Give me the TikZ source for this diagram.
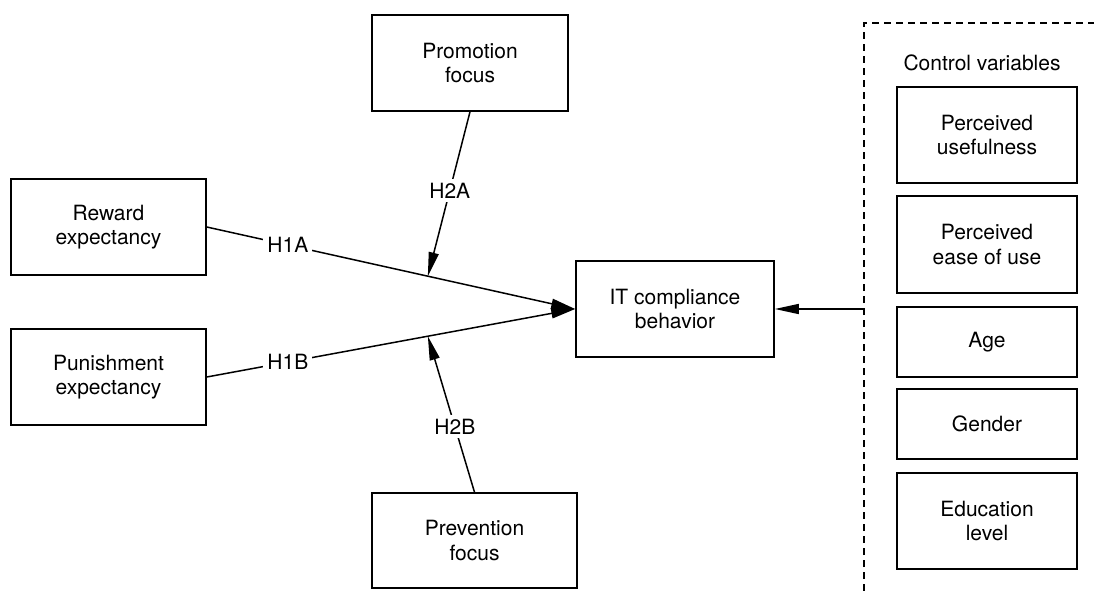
\documentclass[tikz,border=0pt]{standalone}
\usepackage{fontspec}
\setmainfont{TeX Gyre Heros}
\usetikzlibrary{arrows.meta,calc}
\begin{document}
\begin{tikzpicture}[x=1pt,y=-1pt,
  box/.style={draw,line width=1.6pt,inner sep=0pt,align=center,font=\fontsize{21}{24.5}\selectfont},
  lbl/.style={fill=white,inner sep=4pt,font=\fontsize{21}{24.5}\selectfont},
  conn/.style={line width=1.5pt},
  arr/.style={conn,-{Triangle[length=24pt,width=10pt]}},
  dashedline/.style={line width=1.4pt,dash pattern=on 7pt off 5pt}]
\useasboundingbox (0,0) rectangle (1094,591);
% main nodes
\node[box,minimum width=196pt,minimum height=96pt] (promo) at (470,63) {Promotion\\focus};
\node[box,minimum width=205pt,minimum height=95pt] (prev) at (474.5,540.5) {Prevention\\focus};
\node[box,minimum width=195pt,minimum height=96pt] (rew) at (108.5,227) {Reward\\expectancy};
\node[box,minimum width=195pt,minimum height=96pt] (pun) at (108.5,377) {Punishment\\expectancy};
\node[box,minimum width=198pt,minimum height=96pt] (it) at (675,309) {IT compliance\\behavior};
% control variables
\draw[dashedline] (864,591) -- (864,23) -- (1094,23);
\node[font=\fontsize{21}{24.5}\selectfont] (cvt) at (982,63) {Control variables};
\node[box,minimum width=180pt,minimum height=96pt] (pu) at (987,135) {Perceived\\usefulness};
\node[box,minimum width=180pt,minimum height=97pt] (peou) at (987,244.5) {Perceived\\ease of use};
\node[box,minimum width=180pt,minimum height=70pt] (age) at (987,342) {Age};
\node[box,minimum width=180pt,minimum height=70pt] (gen) at (987,424) {Gender};
\node[box,minimum width=180pt,minimum height=96pt] (edu) at (987,521) {Education\\level};
\coordinate (cv) at (864,309);
% connectors
\draw[arr] (rew.east) -- node[lbl,pos=0.22] {H1A} (it.west);
\draw[arr] (pun.east) -- node[lbl,pos=0.22] {H1B} (it.west);
\coordinate (m1) at ($(rew.east)!0.6!(it.west)$);
\coordinate (m2) at ($(pun.east)!0.6!(it.west)$);
\draw[arr] (promo.south) -- node[lbl,pos=0.48] {H2A} (m1);
\draw[arr] (prev.north) -- node[lbl,pos=0.42] {H2B} (m2);
\draw[arr] (cv) -- (it.east);
\end{tikzpicture}
\end{document}
